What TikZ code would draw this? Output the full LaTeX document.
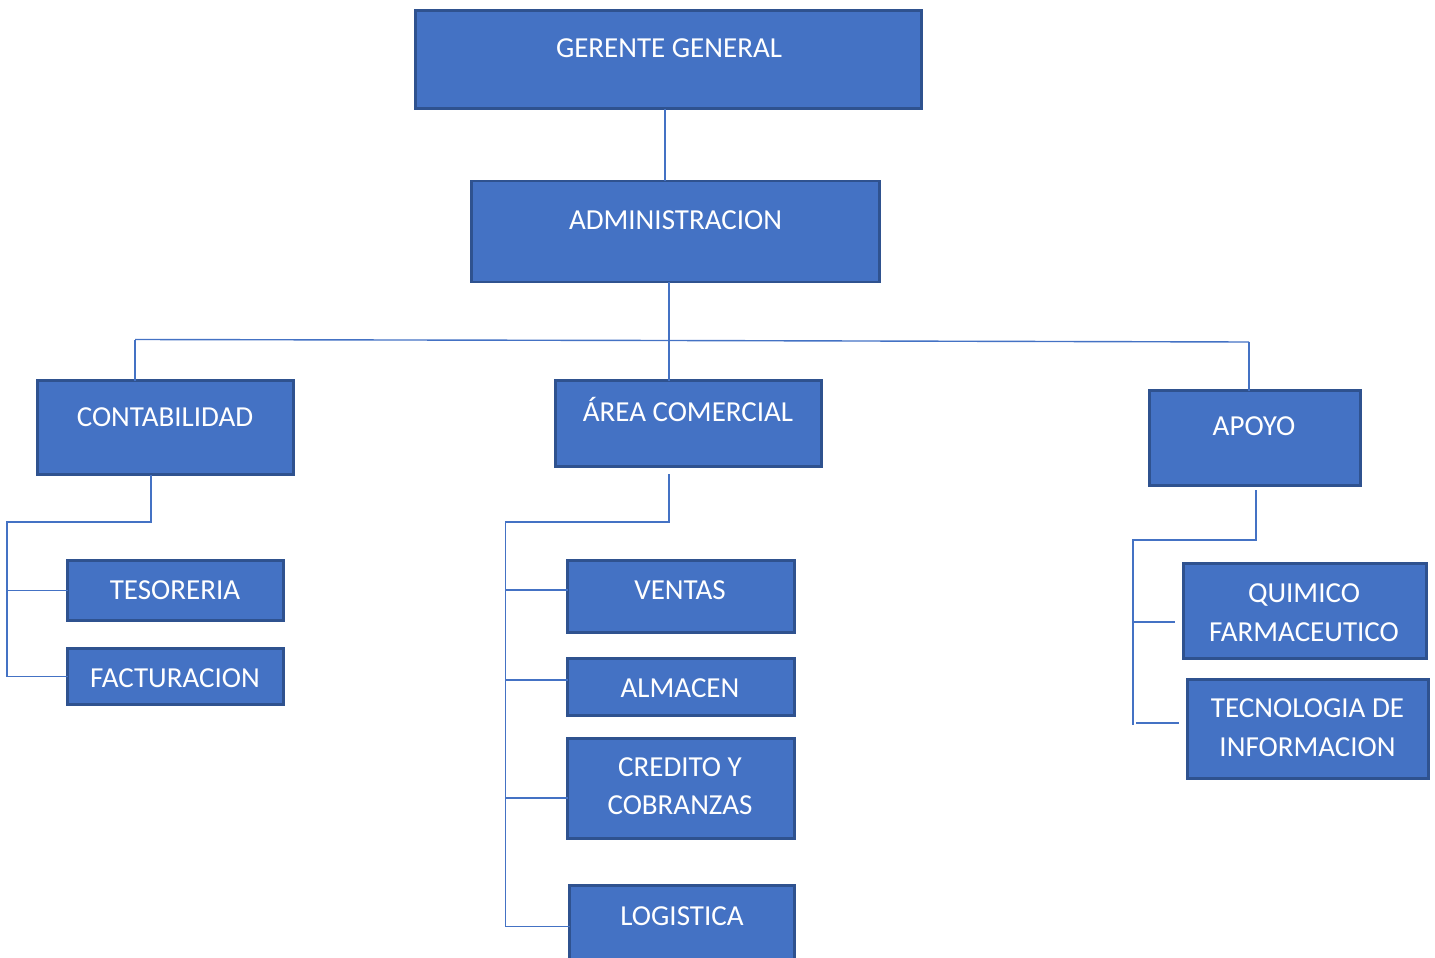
\documentclass[tikz,border=0pt]{standalone}
\usepackage{fontspec}
\setmainfont{Carlito}
\definecolor{boxfill}{HTML}{4472C4}
\definecolor{boxborder}{HTML}{2F528F}
\definecolor{linecol}{HTML}{4472C4}
\begin{document}
\begin{tikzpicture}[x=1pt,y=-1pt,
  box/.style={draw=boxborder, fill=boxfill, line width=2.4pt, anchor=north west, inner sep=0pt, outer sep=0pt},
  lbl/.style={text=white, font=\fontsize{29}{39}\selectfont, align=center, inner sep=0pt},
  conn/.style={draw=linecol, line width=1.4pt}]
\path[use as bounding box] (0,0) rectangle (1435,958);

% boxes
\node[box, minimum width=506pt, minimum height=98pt] (gg) at (415.5,10.5) {};
\node[box, minimum width=408pt, minimum height=101pt] (adm) at (471.5,181) {};
\node[box, minimum width=256pt, minimum height=94pt] (cont) at (37.5,380.5) {};
\node[box, minimum width=266pt, minimum height=86pt] (area) at (555.5,380.5) {};
\node[box, minimum width=211pt, minimum height=95pt] (apoyo) at (1149.5,390.5) {};
\node[box, minimum width=216pt, minimum height=60pt] (tes) at (67.5,560.5) {};
\node[box, minimum width=216pt, minimum height=56pt] (fac) at (67.5,648.5) {};
\node[box, minimum width=227pt, minimum height=72pt] (ven) at (567.5,560.5) {};
\node[box, minimum width=227pt, minimum height=57pt] (alm) at (567.5,658.5) {};
\node[box, minimum width=227pt, minimum height=100pt] (cred) at (567.5,738.5) {};
\node[box, minimum width=225pt, minimum height=90pt] (log) at (569.5,885.5) {};
\node[box, minimum width=243pt, minimum height=95pt] (quim) at (1183.5,563.5) {};
\node[box, minimum width=241pt, minimum height=99pt] (tec) at (1187.5,679.5) {};

% texts
\node[lbl, anchor=base] (gg-t) at (669,58) {GERENTE GENERAL};
\node[lbl, anchor=base] (adm-t) at (675.5,229.5) {ADMINISTRACION};
\node[lbl, anchor=base] (cont-t) at (165,426) {CONTABILIDAD};
\node[lbl, anchor=base] (area-t) at (688,421.5) {ÁREA COMERCIAL};
\node[lbl, anchor=base] (apoyo-t) at (1254,435) {APOYO};
\node[lbl, anchor=base] (tes-t) at (175,599) {TESORERIA};
\node[lbl, anchor=base] (fac-t) at (175,687) {FACTURACION};
\node[lbl, anchor=base] (ven-t) at (680,599) {VENTAS};
\node[lbl, anchor=base] (alm-t) at (680,697) {ALMACEN};
\node[lbl, font=\fontsize{29}{38}\selectfont] (cred-t) at (680,786.5) {CREDITO Y\\COBRANZAS};
\node[lbl, anchor=base] (log-t) at (682,925) {LOGISTICA};
\node[lbl] (quim-t) at (1304,612.5) {QUIMICO\\FARMACEUTICO};
\node[lbl] (tec-t) at (1307.5,728) {TECNOLOGIA DE\\INFORMACION};

% junction coordinates
\coordinate (jl) at (135,339.5);
\coordinate (jm) at (669,340.5);
\coordinate (jr) at (1249,342);
\coordinate (c1) at (151,522);
\coordinate (c2) at (7,522);
\coordinate (a1) at (669,474);
\coordinate (a2) at (669,522);
\coordinate (a3) at (505.5,522);
\coordinate (p1) at (1256,490);
\coordinate (p2) at (1256,540);
\coordinate (p3) at (1133,540);
\coordinate (q1) at (1175,622);
\coordinate (t0) at (1136,723);
\coordinate (t1) at (1179,723);

% connectors
\draw[conn] (gg.south -| 665,0) -- (adm.north -| 665,0);
\draw[conn] (adm.south -| jm) -- (area.north -| jm);
\draw[conn] (jl) -- (jm) -- (jr);
\draw[conn] (jl) -- (cont.north -| jl);
\draw[conn] (jr) -- (apoyo.north -| jr);

\draw[conn] (cont.south -| c1) -- (c1) -- (c2) -- (c2 |- fac.west) -- (fac.west);
\draw[conn] (c2 |- tes.west) -- (tes.west);

\draw[conn] (a1) -- (a2) -- (a3) -- (505.5,926.5) -- (log.west |- 0,926.5);
\draw[conn] (a3 |- 0,590) -- (ven.west |- 0,590);
\draw[conn] (a3 |- 0,680) -- (alm.west |- 0,680);
\draw[conn] (a3 |- 0,798) -- (cred.west |- 0,798);

\draw[conn] (p1) -- (p2) -- (p3) -- (1133,725);
\draw[conn] (p3 |- q1) -- (q1);
\draw[conn] (t0) -- (t1);
\end{tikzpicture}
\end{document}
